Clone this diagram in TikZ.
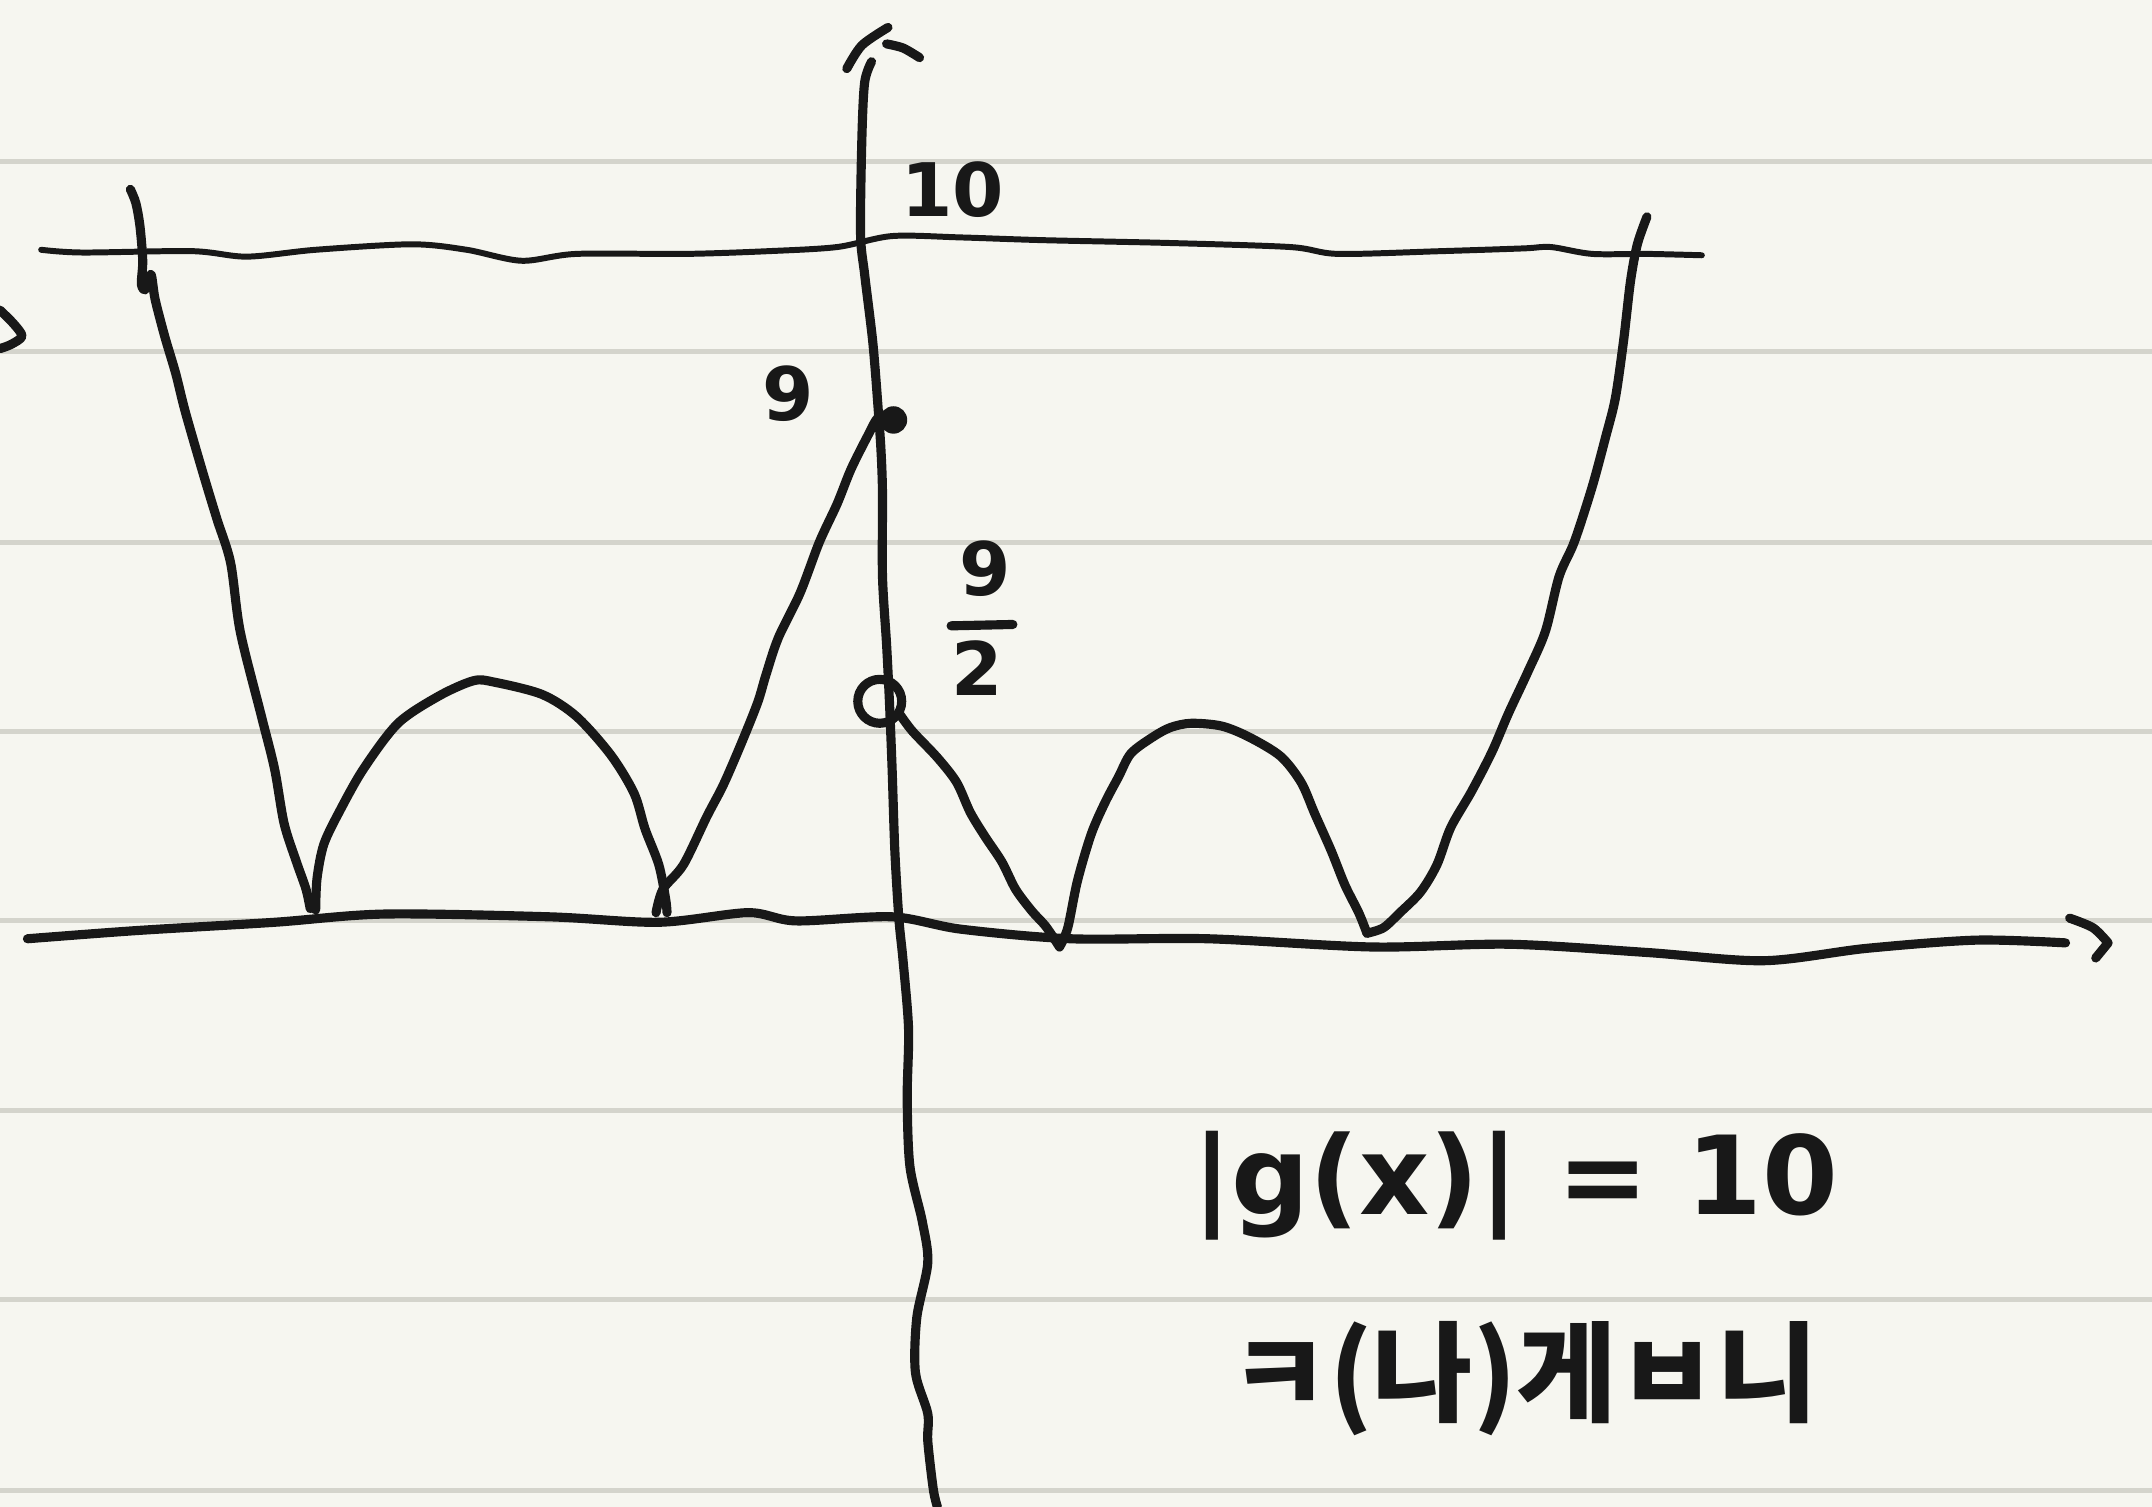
\documentclass[tikz,border=0pt]{standalone}
\usepackage{fontspec}
\setmainfont{DejaVu Sans}
\newfontfamily\krfont{Noto Sans CJK KR}
\definecolor{paper}{RGB}{246,246,240}
\definecolor{rulegray}{RGB}{212,212,204}
\definecolor{ink}{RGB}{24,24,24}
\begin{document}
\begin{tikzpicture}[x=0.013724cm,y=-0.013724cm,
  pen/.style={draw=ink,line width=2.6pt,line cap=round,line join=round},
  ruled/.style={draw=rulegray,line width=1.4pt},
  lbl/.style={text=ink,inner sep=0pt,font=\bfseries\fontsize{21}{21}\selectfont},
  big/.style={text=ink,inner sep=0pt,font=\bfseries\fontsize{31}{31}\selectfont}]
\fill[paper] (0,0) rectangle (1568,1098);
\useasboundingbox (0,0) rectangle (1568,1098);
% ruled paper
\foreach \yy in {118,256,395,533,671,809,947,1086}
  \draw[ruled] (0,\yy) -- (1568,\yy);
% fragment at left edge
\draw[pen] plot[smooth] coordinates {(0,226) (10,236) (16,245) (8,251) (0,254)};
% top level line (y = 10)
\draw[pen,line width=1.7pt] plot[smooth] coordinates {(30,182) (60,184) (140,183) (180,187) (230,182) (300,178) (340,182) (380,190) (420,185) (500,185) (560,183) (610,180) (650,172) (700,173) (760,175) (850,177) (940,180) (975,185) (1050,183) (1110,181) (1130,180) (1160,185) (1200,185) (1240,186)};
% x axis
\draw[pen] plot[smooth] coordinates {(20,684) (100,678) (200,672) (280,666) (400,668) (480,672) (545,665) (580,671) (650,668) (700,677) (780,684) (880,684) (1000,690) (1100,688) (1200,694) (1285,700) (1360,691) (1440,685) (1505,687)};
\draw[pen] plot[smooth] coordinates {(1508,669) (1525,676) (1536,687)} -- (1527,698);
% y axis
\draw[pen] plot[smooth] coordinates {(683,1098) (680,1085) (676,1050) (676,1030) (667,1000) (668,960) (676,920) (672,890) (663,850) (661,800) (662,750) (658,700) (655,670) (652,620) (650,560) (648,510) (646,470) (643,420) (643,360) (642,330) (640,300) (636,250) (630,200) (627,170) (628,100) (630,60) (635,45)};
\draw[pen] plot[smooth] coordinates {(617,50) (628,33) (647,20)};
\draw[pen] plot[smooth] coordinates {(646,32) (658,35) (670,42)};
% graph of |g(x)|
\draw[pen] plot[smooth] coordinates {(95,138) (99,148) (102,165) (104,190) (103,207) (106,211) (110,200) (113,218) (120,245) (128,272) (135,300) (148,345) (158,378) (168,410) (175,460) (190,520) (200,560) (207,600) (216,628) (223,648) (226,662)};
\draw[pen] plot[smooth] coordinates {(230,663) (231,640) (236,615) (248,590) (265,560) (290,527) (320,507) (345,496) (360,497) (395,506) (420,522) (445,550) (462,578) (470,604) (480,630) (485,655) (486,665)};
\draw[pen] plot[smooth] coordinates {(478,665) (483,648) (498,630) (515,595) (527,572) (540,542) (552,512) (558,492) (567,465) (583,432) (597,395) (610,367) (620,342) (632,318) (640,304) (650,302)};
\draw[pen] plot[smooth] coordinates {(656,521) (665,533) (683,552) (697,570) (707,592) (718,610) (730,628) (740,648) (752,664) (762,675) (772,690)};
\draw[pen] plot[smooth] coordinates {(772,690) (778,676) (785,642) (795,608) (805,585) (815,566) (824,549) (840,537) (853,530) (868,527) (890,529) (910,537) (933,551) (948,570) (958,593) (970,620) (980,645) (990,665) (996,680)};
\draw[pen] plot[smooth] coordinates {(996,680) (1008,676) (1020,665) (1035,650) (1047,630) (1057,603) (1072,577) (1087,548) (1099,520) (1113,490) (1126,460) (1136,420) (1147,395) (1160,355) (1170,318) (1177,290) (1183,248) (1188,205) (1193,178) (1200,158)};
% closed and open points
\fill[ink] (651,306) circle (10);
\draw[pen] (641,511) circle (16);
% labels
\node[lbl] (l10) at (694,138) {10};
\node[lbl] (l9) at (574,287) {9};
\node[lbl] (fn) at (718,414) {9};
\node[lbl] (fd) at (712,487) {2};
\coordinate (barL) at (693,456);
\coordinate (barR) at (738,455);
\draw[pen] (barL) -- (barR);
% note
\node[big,anchor=base west] (note1) at (868,885) {|g(x)| = 10};
\node[big,anchor=base west,font=\krfont\bfseries\fontsize{31}{31}\selectfont] (note2) at (895,1030) {ㅋ(나)게ㅂ니};
\end{tikzpicture}
\end{document}
